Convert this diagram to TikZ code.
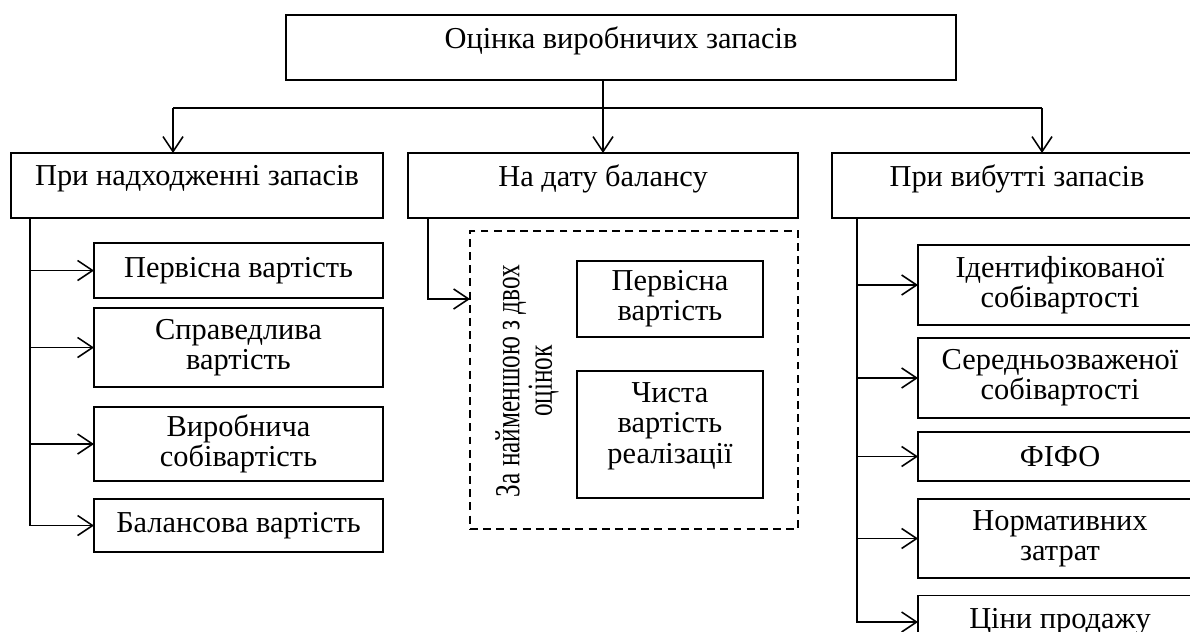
\documentclass[tikz,border=0pt]{standalone}
\usepackage{fontspec}
\setmainfont{Liberation Serif}
\newfontfamily\narrowfont[FakeStretch=0.72]{Liberation Serif}
\usetikzlibrary{arrows.meta}

\tikzset{
  box/.style 2 args={draw, line width=0.9pt, minimum width=#1*0.02cm,
    minimum height=#2*0.02cm, inner sep=0pt, outer sep=0pt, align=center,
    font=\fontsize{17.3}{17.2}\selectfont},
  raised/.style={text depth=0.4cm},
  arr/.style={line width=0.9pt, -{Straight Barb[length=3mm,width=4mm]}},
  link/.style={line width=0.9pt},
}

\begin{document}
\begin{tikzpicture}[x=0.02cm, y=-0.02cm]
\clip (0,0) rectangle (1190,632);

% top level
\node[box={670}{65}, raised] (top) at (621,47.5) {Оцінка виробничих запасів};

\node[box={372}{65}, raised] (recv) at (197,185.5) {При надходженні запасів};
\node[box={390}{65}, raised] (bal) at (603,185.5) {На дату балансу};
\node[box={370}{65}, raised] (disp) at (1017,185.5) {При вибутті запасів};

% left column
\node[box={289}{55}] (pv) at (238.5,270.5) {Первісна вартість};
\node[box={289}{79}] (sv) at (238.5,347.5) {Справедлива\\вартість};
\node[box={289}{74}] (vs) at (238.5,444) {Виробнича\\собівартість};
\node[box={289}{53}] (bv) at (238.5,525.5) {Балансова вартість};

% middle column
\node[box={328}{298}, line width=0.7pt, dash pattern=on 4.5pt off 3pt] (two) at (634,380) {};
\node[box={186}{76}] (pv2) at (670,299) {Первісна\\вартість};
\node[box={186}{127}, text depth=0.46cm] (cv) at (670,434.5) {Чиста\\вартість\\реалізації};
\node[rotate=90, align=center, font=\narrowfont\fontsize{20}{18.5}\selectfont] (lbl) at (527,381) {За найменшою з двох\\оцінок};

% right column
\node[box={284}{80}] (iv) at (1060,285) {Ідентифікованої\\собівартості};
\node[box={284}{80}] (sz) at (1060,378) {Середньозваженої\\собівартості};
\node[box={284}{49}] (fifo) at (1060,456.5) {ФІФО};
\node[box={284}{79}] (nz) at (1060,538.5) {Нормативних\\затрат};
\node[box={284}{53}] (cp) at (1060,622) {Ціни продажу};

% connectors
\coordinate (hl) at (173,108);
\coordinate (hr) at (1042,108);
\coordinate (lt) at (30,218);
\coordinate (mt) at (428,218);
\coordinate (rt) at (857,218);

\draw[arr] (bal.north |- top.south) -- (bal.north);
\draw[link] (hl) -- (hr);
\draw[arr] (hl) -- (hl |- recv.north);
\draw[arr] (hr) -- (hr |- disp.north);

\foreach \n in {pv,sv,vs,bv}
  \draw[arr] (lt) |- (\n.west);
\draw[arr] (mt) |- (two.west |- pv2);
\foreach \n in {iv,sz,fifo,nz,cp}
  \draw[arr] (rt) |- (\n.west);
\end{tikzpicture}
\end{document}
